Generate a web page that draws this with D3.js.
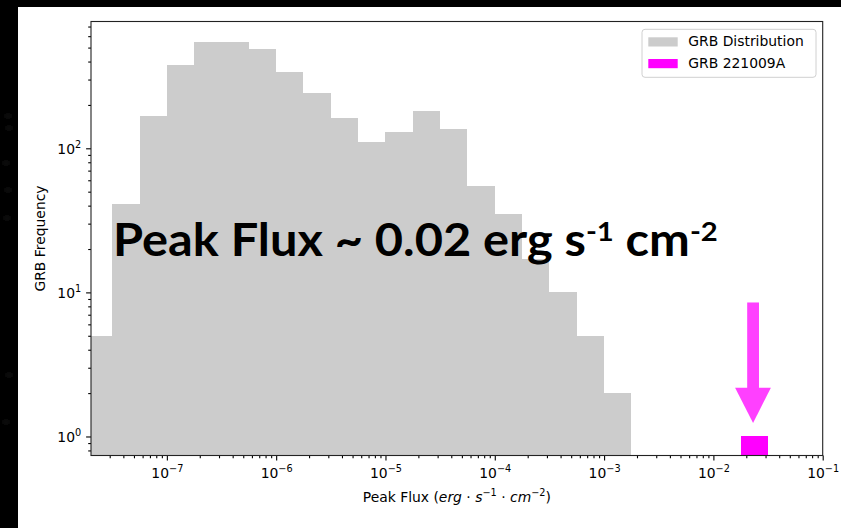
<!DOCTYPE html>
<html>
<head>
<meta charset="utf-8">
<script src="https://cdn.jsdelivr.net/npm/d3@7"></script>
<style>
  html, body { margin: 0; padding: 0; background: #000; }
  svg { display: block; }
</style>
</head>
<body>
<svg id="chart" width="841" height="528"></svg>
<script>
// Histogram bins: log10 of the left edge of each quarter-decade bin
const binStartsLog = [-7.75, -7.5, -7.25, -7.0, -6.75, -6.5, -6.25, -6.0, -5.75, -5.5,
                      -5.25, -5.0, -4.75, -4.5, -4.25, -4.0, -3.75, -3.5, -3.25, -3.0];
const binWidthLog = 0.25;
// Number of bursts per bin
const grbCounts = [5, 41, 168, 377, 549, 544, 486, 337, 241, 162,
                   110, 129, 182, 136, 55, 35, 17, 10, 5, 2];
// GRB 221009A bin
const grbA_startLog = [-1.75];
const grbA_counts = [1];

const xMajorExp = [-7, -6, -5, -4, -3, -2, -1];
const yMajorExp = [0, 1, 2];
const legendLabels = ["GRB Distribution", "GRB 221009A"];
const annotationMain = "Peak Flux ~ 0.02 erg s";
const xLabelText = "Peak Flux";
const yLabelText = "GRB Frequency";

const grey = "#cccccc";
const magenta = "#ff00ff";
const arrowColor = "#ff40ff";

const W = 841, H = 528;
const plot = { left: 91, right: 822.7, top: 21.5, bottom: 455.5 };

const svg = d3.select("#chart");

// black backdrop with a few faint specks, white panel
svg.append("rect").attr("width", W).attr("height", H).attr("fill", "#000");
const defs = svg.append("defs");
defs.append("filter").attr("id", "soft").append("feGaussianBlur").attr("stdDeviation", 2);
const specks = [[8, 116], [9, 128], [6, 163], [8, 190], [7, 218], [9, 375], [6, 422]];
svg.append("g").attr("filter", "url(#soft)").selectAll("circle").data(specks).join("circle")
  .attr("cx", d => d[0]).attr("cy", d => d[1]).attr("r", 2.5).attr("fill", "#1e1e1e");
svg.append("rect").attr("x", 18).attr("y", 7).attr("width", W - 18).attr("height", H - 7).attr("fill", "#fff");

const x = d3.scaleLog().domain([Math.pow(10, -7.694), 0.1]).range([plot.left, plot.right]);
const y = d3.scaleLog().domain([Math.pow(10, -0.132), Math.pow(10, 2.880)]).range([plot.bottom, plot.top]);

defs.append("clipPath").attr("id", "plotClip").append("rect")
  .attr("x", plot.left).attr("y", plot.top)
  .attr("width", plot.right - plot.left).attr("height", plot.bottom - plot.top);

const bars = svg.append("g").attr("clip-path", "url(#plotClip)");
const grbData = binStartsLog.map((s, i) => ({ x0: Math.pow(10, s), x1: Math.pow(10, s + binWidthLog), n: grbCounts[i] }));
bars.selectAll("rect.grb").data(grbData).join("rect").attr("class", "grb")
  .attr("x", d => x(d.x0)).attr("width", d => x(d.x1) - x(d.x0))
  .attr("y", d => y(d.n)).attr("height", d => plot.bottom - y(d.n))
  .attr("fill", grey).attr("shape-rendering", "crispEdges");

const aData = grbA_startLog.map((s, i) => ({ x0: Math.pow(10, s), x1: Math.pow(10, s + binWidthLog), n: grbA_counts[i] }));
bars.selectAll("rect.grbA").data(aData).join("rect").attr("class", "grbA")
  .attr("x", d => x(d.x0)).attr("width", d => x(d.x1) - x(d.x0))
  .attr("y", d => y(d.n)).attr("height", d => plot.bottom - y(d.n))
  .attr("fill", magenta).attr("shape-rendering", "crispEdges");

// ticks
const tickFont = "DejaVu Sans, sans-serif";
const tickSize = 13.9;
function minorValues(scale) {
  const [a, b] = scale.domain();
  const out = [];
  for (let e = Math.floor(Math.log10(a)); e <= Math.ceil(Math.log10(b)); e++) {
    for (let k = 2; k <= 9; k++) {
      const v = k * Math.pow(10, e);
      if (v >= a && v <= b) out.push(v);
    }
  }
  return out;
}
function powerLabel(textSel, exp) {
  textSel.text(null);
  textSel.append("tspan").text("10");
  textSel.append("tspan").attr("font-size", tickSize * 0.7).attr("dy", -6)
    .text(exp < 0 ? "\u2212" + Math.abs(exp) : String(exp));
}

const xAxisMajor = svg.append("g").attr("transform", `translate(0,${plot.bottom})`)
  .call(d3.axisBottom(x).tickValues(xMajorExp.map(e => Math.pow(10, e))).tickSize(4.9).tickFormat(() => ""));
svg.append("g").attr("transform", `translate(0,${plot.bottom})`)
  .call(d3.axisBottom(x).tickValues(minorValues(x)).tickSize(2.8).tickFormat(() => ""));
xAxisMajor.selectAll(".tick").each(function (d, i) {
  const t = d3.select(this).append("text")
    .attr("y", 22.2).attr("fill", "#000").attr("text-anchor", "middle")
    .attr("font-family", tickFont).attr("font-size", tickSize);
  powerLabel(t, xMajorExp[i]);
});

const yAxisMajor = svg.append("g").attr("transform", `translate(${plot.left},0)`)
  .call(d3.axisLeft(y).tickValues(yMajorExp.map(e => Math.pow(10, e))).tickSize(4.9).tickFormat(() => ""));
svg.append("g").attr("transform", `translate(${plot.left},0)`)
  .call(d3.axisLeft(y).tickValues(minorValues(y)).tickSize(2.8).tickFormat(() => ""));
yAxisMajor.selectAll(".tick").each(function (d, i) {
  const t = d3.select(this).append("text")
    .attr("x", -9.8).attr("y", 5).attr("fill", "#000").attr("text-anchor", "end")
    .attr("font-family", tickFont).attr("font-size", tickSize);
  powerLabel(t, yMajorExp[i]);
});
svg.selectAll(".domain").remove();
svg.selectAll(".tick line").attr("stroke", "#000").attr("stroke-width", 1.1);

// frame
svg.append("rect").attr("x", plot.left).attr("y", plot.top)
  .attr("width", plot.right - plot.left).attr("height", plot.bottom - plot.top)
  .attr("fill", "none").attr("stroke", "#222").attr("stroke-width", 1.1);

// axis labels
const xl = svg.append("text").attr("x", (plot.left + plot.right) / 2).attr("y", 502)
  .attr("text-anchor", "middle").attr("font-family", tickFont).attr("font-size", tickSize).attr("fill", "#000");
xl.append("tspan").text(xLabelText + " (");
xl.append("tspan").attr("font-style", "italic").text("erg");
xl.append("tspan").text(" \u00b7 ");
xl.append("tspan").attr("font-style", "italic").text("s");
xl.append("tspan").attr("font-size", tickSize * 0.7).attr("dy", -6).text("\u22121");
xl.append("tspan").attr("dy", 6).text(" \u00b7 ");
xl.append("tspan").attr("font-style", "italic").text("cm");
xl.append("tspan").attr("font-size", tickSize * 0.7).attr("dy", -6).text("\u22122");
xl.append("tspan").attr("dy", 6).text(")");

svg.append("text").attr("transform", `translate(45,${(plot.top + plot.bottom) / 2}) rotate(-90)`)
  .attr("text-anchor", "middle").attr("font-family", tickFont).attr("font-size", tickSize)
  .attr("fill", "#000").text(yLabelText);

// legend
const lg = svg.append("g").attr("transform", "translate(642,29.3)");
lg.append("rect").attr("width", 174).attr("height", 48).attr("rx", 3)
  .attr("fill", "#fff").attr("fill-opacity", 0.8).attr("stroke", "#d0d0d0").attr("stroke-width", 1);
[grey, magenta].forEach((c, i) => {
  lg.append("rect").attr("x", 6.3).attr("y", 8 + i * 21.7).attr("width", 29.4).attr("height", 9.2).attr("fill", c);
  lg.append("text").attr("x", 46.3).attr("y", 17.2 + i * 21.7)
    .attr("font-family", tickFont).attr("font-size", tickSize).attr("fill", "#000").text(legendLabels[i]);
});

// arrow pointing at GRB 221009A
const ax = Math.sqrt(aData[0].x0 * aData[0].x1);
const axp = x(ax) - 1.3;
const barTop = y(aData[0].n);
const arrow = svg.append("g").attr("fill", arrowColor);
arrow.append("rect").attr("x", axp - 5.9).attr("y", barTop - 134).attr("width", 11.8).attr("height", 86);
arrow.append("polygon").attr("points", [
  [axp - 18, barTop - 48.8], [axp + 17.8, barTop - 48.8], [axp, barTop - 13.5]
].map(p => p.join(",")).join(" "));

// big annotation
const ann = svg.append("text").attr("font-family", "Lato, 'Open Sans', sans-serif")
  .attr("font-weight", 700).attr("font-size", 45).attr("fill", "#000");
ann.append("tspan").text(annotationMain);
ann.append("tspan").attr("font-size", 27).attr("dy", -15).text("-1");
ann.append("tspan").attr("dy", 15).text(" cm");
ann.append("tspan").attr("font-size", 27).attr("dy", -15).text("-2");
const len = ann.node().getComputedTextLength();
const sx = (718 - 113) / len;
ann.attr("transform", `translate(113,256) scale(${sx},1)`);
</script>
</body>
</html>
